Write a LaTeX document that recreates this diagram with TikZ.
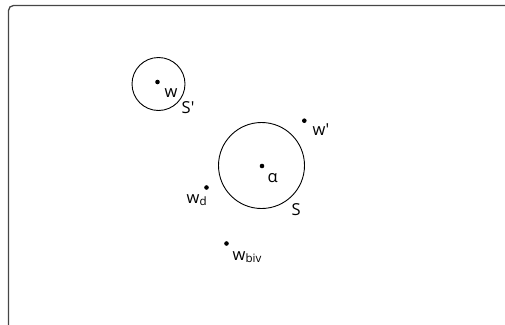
\documentclass[tikz,border=0pt]{standalone}
\usepackage{fontspec}
\setmainfont{Open Sans}
\usepackage{tikz}
\definecolor{frameColor}{RGB}{70, 70, 70}

\tikzset{
  pt/.style={circle, fill=black, inner sep=0pt, minimum size=4.6pt},
  ball/.style={circle, draw=black, line width=0.9pt, inner sep=0pt},
  lbl/.style={anchor=base west, inner sep=0pt, font=\fontsize{16.5}{19}\selectfont},
}

\begin{document}
\begin{tikzpicture}[x=1pt, y=-1pt]
  \useasboundingbox (0,0) rectangle (505,324);

  % Frame
  \draw[frameColor, line width=1.3pt, rounded corners=5pt] (8.5,330) |- (512,5.5);

  % Small ball S' around w
  \node[ball, minimum size=53pt] (Sp) at (158.5,84) {};
  \node[pt] (w) at (157.5,82) {};
  \node[lbl] (wlab) at (164.5,97) {w};
  \node[lbl] (Splab) at (181.5,113) {S\textquotesingle};

  % Large ball S around alpha
  \node[ball, minimum size=86pt] (S) at (261.5,165.5) {};
  \node[pt] (alpha) at (262,166) {};
  \node[lbl] (alphalab) at (267.5,182) {α};
  \node[lbl] (Slab) at (291.5,215) {S};

  % Other points
  \node[pt] (wp) at (304.3,120.7) {};
  \node[lbl] (wplab) at (312.5,135) {w\textquotesingle};

  \node[pt] (wd) at (206.5,187.5) {};
  \node[lbl] (wdlab) at (186.5,203) {w\textsubscript{d}};

  \node[pt] (wbiv) at (226.5,243.5) {};
  \node[lbl] (wbivlab) at (232.5,260) {w\textsubscript{biv}};
\end{tikzpicture}
\end{document}
